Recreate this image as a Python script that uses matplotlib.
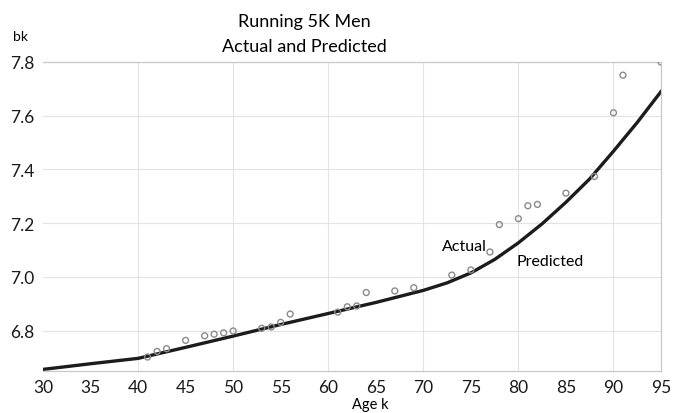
import matplotlib.pyplot as plt
import numpy as np

# Actual values
age_actual = [41, 42, 43, 45, 47, 48, 49, 50, 53, 54, 55, 56, 61, 62, 63, 64,
              67, 69, 73, 75, 77, 78, 80, 81, 82, 85, 88, 90, 91, 95]
bk_actual = [6.702, 6.723, 6.733, 6.764, 6.781, 6.787, 6.792, 6.799, 6.809, 6.814,
             6.831, 6.862, 6.869, 6.889, 6.892, 6.942, 6.948, 6.960, 7.007, 7.026,
             7.093, 7.195, 7.217, 7.265, 7.270, 7.312, 7.374, 7.611, 7.751, 7.800]

# Predicted curve
age_pred = [30, 35, 40, 45, 50, 55, 60, 65, 70, 72.5, 75, 77.5, 80, 82.5, 85, 87.5, 90, 92.5, 95]
bk_pred = [6.656, 6.677, 6.697, 6.738, 6.780, 6.823, 6.864, 6.905, 6.950, 6.978, 7.015,
           7.065, 7.127, 7.198, 7.278, 7.365, 7.468, 7.575, 7.690]

xticks = [30, 35, 40, 45, 50, 55, 60, 65, 70, 75, 80, 85, 90, 95]
yticks = [6.8, 7.0, 7.2, 7.4, 7.6, 7.8]

plt.rcParams['font.family'] = ['Lato', 'DejaVu Sans']

fig = plt.figure(figsize=(6.73, 4.14), dpi=100)
ax = fig.add_axes([43 / 673, 1 - 372 / 414, 618 / 673, 309 / 414])

# grid every 10 years and 0.2
for x in range(40, 95, 10):
    ax.axvline(x, color='#e3e3e3', lw=0.8, zorder=0)
for y in yticks:
    ax.axhline(y, color='#e3e3e3', lw=0.8, zorder=0)

ax.plot(age_pred, bk_pred, color='#1c1c1c', lw=2.4, zorder=2)
ax.scatter(age_actual, bk_actual, s=18, facecolors='none', edgecolors='#8a8a8a',
           linewidths=1.0, zorder=3, clip_on=True)

ax.set_xlim(30, 95)
ax.set_ylim(6.65, 7.8)
ax.set_xticks(xticks)
ax.set_yticks(yticks)
ax.set_yticklabels([f'{v:.1f}' for v in yticks])
ax.tick_params(length=0, labelsize=12.5, colors='#1a1a1a', pad=6)

for s in ['top', 'right', 'bottom']:
    ax.spines[s].set_color('#c8c8c8')
    ax.spines[s].set_linewidth(0.9)
ax.spines['left'].set_visible(False)

fig.text(304 / 673, 1 - 22 / 414, 'Running 5K Men', ha='center', va='center', fontsize=13)
fig.text(304 / 673, 1 - 47 / 414, 'Actual and Predicted', ha='center', va='center', fontsize=13)
fig.text(20 / 673, 1 - 37 / 414, 'bk', ha='center', va='center', fontsize=10)
fig.text(370 / 673, 1 - 405 / 414, 'Age k', ha='center', va='center', fontsize=10.5)

ax.text(76.7, 7.09, 'Actual', ha='right', va='bottom', fontsize=11.5)
ax.text(79.8, 7.06, 'Predicted', ha='left', va='center', fontsize=11.5)

fig.savefig('out.png', dpi=100)
